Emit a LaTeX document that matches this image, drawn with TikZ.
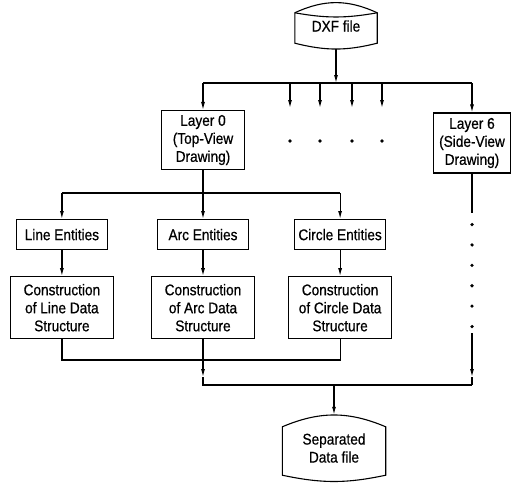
\documentclass[tikz,border=0pt]{standalone}
\usepackage{fontspec}
\setmainfont{Liberation Sans}[FakeStretch=0.88, FakeBold=0.6]
\usetikzlibrary{arrows.meta,positioning}

\begin{document}
\begin{tikzpicture}[
    x=1pt, y=-1pt,
    node distance=26pt and 46pt,
    every node/.style={font=\fontsize{15.5}{18}\selectfont},
    layerbox/.style={rectangle, draw, line width=1.1pt, align=center, minimum width=83pt, minimum height=59pt, inner sep=2pt},
    entbox/.style={rectangle, draw, line width=1.1pt, minimum width=91pt, minimum height=30pt, inner sep=2pt},
    conbox/.style={rectangle, draw, line width=1.1pt, align=center, minimum width=103pt, minimum height=62pt, inner sep=2pt},
    filebox/.style={rectangle, align=center, inner sep=0pt},
    line/.style={draw, line width=1.2pt},
    arr/.style={draw, line width=1.2pt, -{Latex[length=8pt,width=4pt]}}
]
    \useasboundingbox (0,0) rectangle (522,482);

    % Input file and layers
    \node[filebox, minimum width=82pt, minimum height=46pt] (dxf) at (336,26) {DXF file};
    \node[layerbox] (layer0) at (203,140) {Layer 0\\(Top-View\\Drawing)};
    \node[layerbox, minimum width=77pt, minimum height=60pt] (layer6) at (472,143) {Layer 6\\(Side-View\\Drawing)};

    % Entity columns
    \node[entbox, below=49pt of layer0] (arcent) {Arc Entities};
    \node[entbox, left=49pt of arcent] (lineent) {Line Entities};
    \node[entbox, right=45pt of arcent] (circent) {Circle Entities};
    \node[conbox, below=of lineent] (linecon) {Construction\\of Line Data\\Structure};
    \node[conbox, below=of arcent] (arccon) {Construction\\of Arc Data\\Structure};
    \node[conbox, below=of circent] (circon) {Construction\\of Circle Data\\Structure};

    % Output file
    \node[filebox, minimum width=103pt, minimum height=66pt] (sep) at (334,448) {Separated\\Data file};

    % File outlines
    \draw[line width=1.1pt] ([yshift=-10pt]dxf.north west) to[bend left=25] ([yshift=-10pt]dxf.north east)
        -- ([yshift=6pt]dxf.south east) to[bend left=14] ([yshift=6pt]dxf.south west) -- cycle;
    \draw[line width=1.1pt] ([yshift=-10pt]dxf.north west) to[bend right=10] ([yshift=-10pt]dxf.north east);
    \draw[line width=1.1pt] ([yshift=-12pt]sep.north west) to[bend left=23] ([yshift=-12pt]sep.north east)
        -- ([yshift=6pt]sep.south east) to[bend left=12] ([yshift=6pt]sep.south west) -- cycle;

    % Helper levels
    \coordinate (busA) at (0,83);
    \coordinate (busB) at (0,193);
    \coordinate (busC) at (0,360);
    \coordinate (yArr) at (0,377);
    \coordinate (busD) at (0,385);
    \coordinate (yDotA) at (0,213);
    \coordinate (yDotB) at (0,333);

    % Top distribution
    \draw[line] (layer0.north |- busA) -- (layer6.north |- busA);
    \draw[arr] (dxf.south) -- (dxf.south |- busA);
    \draw[arr] (layer0.north |- busA) -- (layer0.north);
    \draw[arr] (layer6.north |- busA) -- (layer6.north);
    \foreach \x in {290,320,352,382} {
        \coordinate (sub\x) at (\x,108);
        \draw[arr] (sub\x |- busA) -- (sub\x);
        \fill (sub\x) ++(0,33) circle (1.8pt);
    }

    % Layer 0 to entities
    \draw[line] (layer0.south) -- (layer0.south |- busB);
    \draw[line] (lineent.north |- busB) -- (circent.north |- busB);
    \foreach \n in {lineent,arcent,circent}
        \draw[arr] (\n.north |- busB) -- (\n.north);
    \foreach \n/\m in {lineent/linecon,arcent/arccon,circent/circon}
        \draw[arr] (\n) -- (\m);

    % Collecting the structures
    \draw[line] (linecon.south) |- (circon.south |- busC) -- (circon.south);
    \draw[arr] (arccon.south) -- (arccon.south |- yArr);
    \draw[line] (arccon.south |- yArr) -- (arccon.south |- busD) -- (layer6.south |- busD);

    % Layer 6 column
    \draw[line] (layer6.south) -- (layer6.south |- yDotA);
    \foreach \i in {0,...,5}
        \fill (layer6.south) ++(0,{51+\i*20.4}) circle (1.8pt);
    \draw[arr] (layer6.south |- yDotB) -- (layer6.south |- yArr);
    \draw[line] (layer6.south |- yArr) -- (layer6.south |- busD);

    \draw[arr] (sep.north |- busD) -- (sep.north);
\end{tikzpicture}
\end{document}
